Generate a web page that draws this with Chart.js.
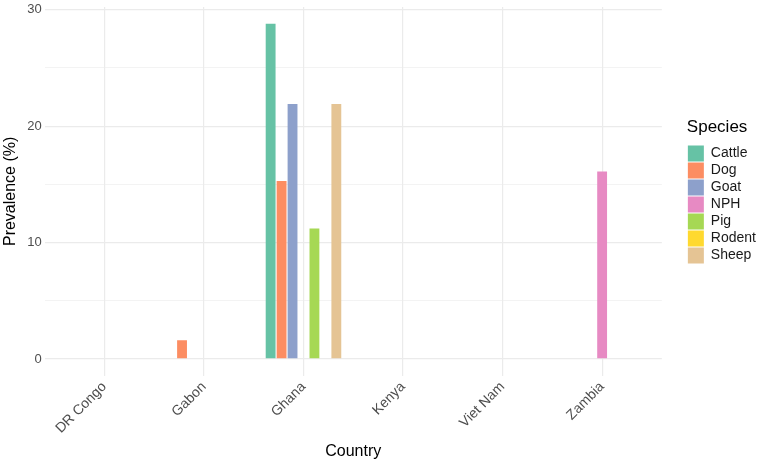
<!DOCTYPE html>
<html>
<head>
<meta charset="utf-8">
<script src="https://cdn.jsdelivr.net/npm/chart.js@4"></script>
<style>
  html, body { margin: 0; padding: 0; background: #fff; }
  #wrap { width: 767px; height: 464px; }
</style>
</head>
<body>
<div id="wrap"><canvas id="chart"></canvas></div>
<script>
const countries = ["DR Congo", "Gabon", "Ghana", "Kenya", "Viet Nam", "Zambia"];
const species = ["Cattle", "Dog", "Goat", "NPH", "Pig", "Rodent", "Sheep"];
const speciesColors = ["#66C2A5", "#FC8D62", "#8DA0CB", "#E78AC3", "#A6D854", "#FFD92F", "#E5C494"];

// prevalence (%) per species, one value per country (null = no study)
const cattle = [null, null, 28.8, null, null, null];
const dog    = [null, 1.6, 15.3, null, null, null];
const goat   = [null, null, 21.9, null, null, null];
const nph    = [null, null, null, null, null, 16.1];
const pig    = [null, null, 11.2, null, null, null];
const rodent = [null, null, null, null, null, null];
const sheep  = [null, null, 21.9, null, null, null];
const yTicks = [0, 10, 20, 30];

const seriesValues = [cattle, dog, goat, nph, pig, rodent, sheep];
const font = "'Liberation Sans', Arial, sans-serif";

const datasets = species.map((name, i) => ({
  label: name,
  data: seriesValues[i].map((v, j) => ({ x: j, y: v })),
  backgroundColor: speciesColors[i],
  borderWidth: 0,
  categoryPercentage: 0.77,
  barPercentage: 0.9,
}));

new Chart(document.getElementById("chart"), {
  type: "bar",
  data: { datasets },
  options: {
    responsive: true,
    maintainAspectRatio: false,
    animation: false,
    layout: { padding: { left: 1, right: 1, top: 7, bottom: 3 } },
    plugins: {
      tooltip: { enabled: false },
      legend: {
        position: "right",
        align: "start",
        title: {
          display: true,
          position: "start",
          text: "Species",
          color: "#000",
          font: { family: font, size: 17 },
          padding: { top: 112, bottom: 5 },
        },
        labels: {
          boxWidth: 16,
          boxHeight: 16,
          padding: 1,
          color: "#1a1a1a",
          font: { family: font, size: 14 },
        },
      },
    },
    scales: {
      x: {
        type: "linear",
        offset: false,
        min: -0.6,
        max: 5.6,
        afterBuildTicks: (axis) => {
          axis.ticks = countries.map((c, i) => ({ value: i }));
        },
        ticks: {
          autoSkip: false,
          maxRotation: 45,
          minRotation: 45,
          color: "#4d4d4d",
          font: { family: font, size: 14 },
          padding: 3,
          callback: (v) => countries[v],
        },
        grid: { offset: false, color: "#ebebeb", lineWidth: 1.2, drawTicks: false },
        border: { display: false },
        title: {
          display: true,
          text: "Country",
          color: "#000",
          font: { family: font, size: 16 },
          padding: { top: 2, bottom: 0 },
        },
      },
      y: {
        min: -1.44,
        max: 30.24,
        afterBuildTicks: (axis) => {
          axis.ticks = [0, 5, 10, 15, 20, 25, 30].map((v) => ({ value: v }));
        },
        afterFit: (axis) => {
          axis.paddingTop = 0;
        },
        ticks: {
          color: "#4d4d4d",
          font: { family: font, size: 13 },
          padding: 3,
          callback: (v) => (yTicks.includes(v) ? v : ""),
        },
        grid: {
          color: "#ebebeb",
          lineWidth: (ctx) => (ctx.tick && yTicks.includes(ctx.tick.value) ? 1.2 : 0.6),
          drawTicks: false,
        },
        border: { display: false },
        title: {
          display: true,
          text: "Prevalence (%)",
          color: "#000",
          font: { family: font, size: 16 },
          padding: { top: 0, bottom: 4 },
        },
      },
      // empty spacer between the panel and the legend
      gap: {
        type: "linear",
        position: "right",
        display: true,
        ticks: { display: false },
        grid: { display: false },
        border: { display: false },
        afterFit: (axis) => {
          axis.width = 25;
        },
      },
    },
  },
});
</script>
</body>
</html>
